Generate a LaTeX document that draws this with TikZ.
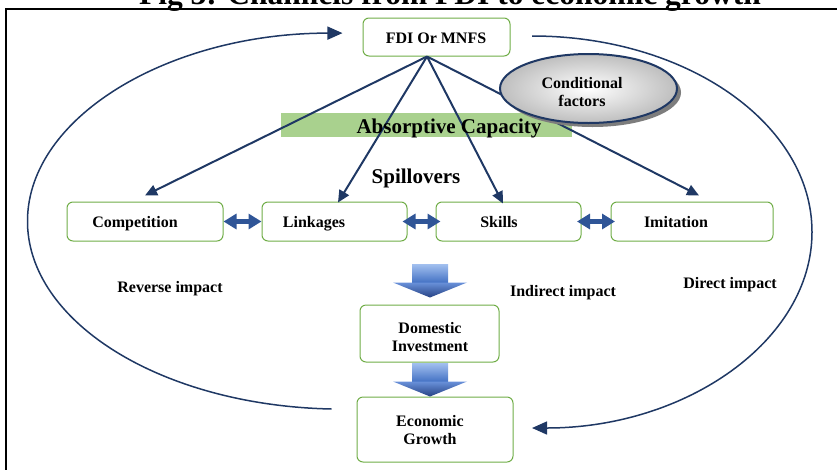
\documentclass[tikz,border=0pt]{standalone}
\usepackage{fontspec}
\setmainfont{Liberation Serif}
\usetikzlibrary{arrows.meta,calc,shapes.geometric}
\definecolor{navy}{RGB}{31,56,100}
\definecolor{boxgreen}{RGB}{112,173,71}
\definecolor{bargreen}{RGB}{169,209,142}
\definecolor{dblue}{RGB}{47,85,151}
\definecolor{shaftlight}{RGB}{160,190,238}
\definecolor{shaftdark}{RGB}{68,114,196}
\definecolor{headtop}{RGB}{105,145,218}
\definecolor{headbot}{RGB}{38,66,132}
\definecolor{ellgray}{RGB}{190,190,190}
\definecolor{shadowgray}{RGB}{125,125,125}
\begin{document}
\begin{tikzpicture}[x=1pt,y=-1pt,
  every node/.style={font=\fontsize{16}{18}\selectfont\bfseries},
  gbox/.style={draw=boxgreen, line width=1pt, rounded corners=6pt, fill=white, inner sep=0pt},
  lbl/.style={anchor=base, inner sep=0pt},
  bigtext/.style={font=\fontsize{21}{24}\selectfont\bfseries},
  fan/.style={draw=navy, line width=2pt, -{Triangle[length=12pt,width=11pt]}},
  loopline/.style={draw=navy, line width=1.5pt, -{Triangle[length=15pt,width=13pt]}},
  dbl/.style={draw=dblue, line width=5pt, {Triangle[length=13pt,width=15pt]}-{Triangle[length=13pt,width=15pt]}},
  blockarr/.pic={
    \shade[top color=shaftlight, bottom color=shaftdark] (-18,-33) rectangle (18,-15);
    \shade[top color=headtop, bottom color=headbot] (-37,-15) -- (37,-15) -- (0,0) -- cycle;
  }
]
\useasboundingbox (0,0) rectangle (837,469);
\clip (0,0) rectangle (837,469);

% title and frame
\node[lbl, font=\fontsize{31.5}{34}\selectfont\bfseries] (title) at (450,4) {Fig 3: Channels from FDI to economic growth};
\draw[line width=2pt] (6,475) -- (6,9) -- (845,9);

% absorptive capacity bar
\node[fill=bargreen, minimum width=291pt, minimum height=24pt, inner sep=0pt] (bar) at (426.5,125) {};

% boxes
\node[gbox, minimum width=147pt, minimum height=38pt] (fdi) at (436.5,37) {};
\node[gbox, minimum width=156pt, minimum height=39pt] (comp) at (145,221.5) {};
\node[gbox, minimum width=145pt, minimum height=39pt] (link) at (334.5,221.5) {};
\node[gbox, minimum width=145pt, minimum height=39pt] (skills) at (508.5,221.5) {};
\node[gbox, minimum width=162pt, minimum height=39pt] (imit) at (692,221.5) {};
\node[gbox, minimum width=139pt, minimum height=57pt] (dom) at (429.5,333.5) {};
\node[gbox, minimum width=156pt, minimum height=65pt] (econ) at (435,429.5) {};

% loop arcs
\coordinate (lstart) at ($(econ.west)+(-25,-20.5)$);
\coordinate (rstart) at ($(fdi.east)+(21.5,-1)$);
\draw[loopline] (lstart) arc[start angle=-92, end angle=-270, x radius=315pt, y radius=188pt];
\draw[loopline] (rstart) arc[start angle=90, end angle=-90, x radius=280pt, y radius=196pt];

% fan arrows
\coordinate (fo) at ($(fdi.south)+(-9.5,0)$);
\draw[fan] (fo) -- ($(comp.north)+(0,-6)$);
\draw[fan] (fo) -- ($(link.north)+(3.5,1)$);
\draw[fan] (fo) -- ($(skills.north)+(-5.5,2)$);
\draw[fan] (fo) -- ($(imit.north)+(7,-6)$);

% conditional factors
\node[ellipse, fill=shadowgray, minimum width=177pt, minimum height=69pt, inner sep=0pt] (condsh) at (592.5,92.5) {};
\node[ellipse, draw=navy, line width=2pt, inner color=white, outer color=ellgray, minimum width=177pt, minimum height=69pt, inner sep=0pt] (cond) at (588.5,88.5) {};
\node[align=center, inner sep=0pt] (condT) at (582,92) {Conditional\\factors};

% double arrows
\draw[dbl] ($(comp.east)!0.5!(link.west)+(-19,0)$) -- ($(comp.east)!0.5!(link.west)+(19,0)$);
\draw[dbl] ($(link.east)!0.5!(skills.west)+(-19,0)$) -- ($(link.east)!0.5!(skills.west)+(19,0)$);
\draw[dbl] ($(skills.east)!0.5!(imit.west)+(-19,0)$) -- ($(skills.east)!0.5!(imit.west)+(19,0)$);

% block arrows
\pic at ($(dom.north)+(0.5,-7)$) {blockarr};
\pic at ($(econ.north)+(-5,0)$) {blockarr};

% texts
\node[lbl] (fdiT) at (436,43) {FDI Or MNFS};
\node[lbl, bigtext] (absT) at (449,133) {Absorptive Capacity};
\node[lbl, bigtext] (spillT) at (416,183) {Spillovers};
\node[lbl] (compT) at (135,227) {Competition};
\node[lbl] (linkT) at (314,227) {Linkages};
\node[lbl] (skillsT) at (499,227) {Skills};
\node[lbl] (imitT) at (676,227) {Imitation};
\node[lbl] (revT) at (170,292) {Reverse impact};
\node[lbl] (indT) at (563,296) {Indirect impact};
\node[lbl] (dirT) at (730,288) {Direct impact};
\node[align=center, inner sep=0pt] (domT) at (430,337) {Domestic\\Investment};
\node[align=center, inner sep=0pt] (econT) at (430,430) {Economic\\Growth};
\end{tikzpicture}
\end{document}
